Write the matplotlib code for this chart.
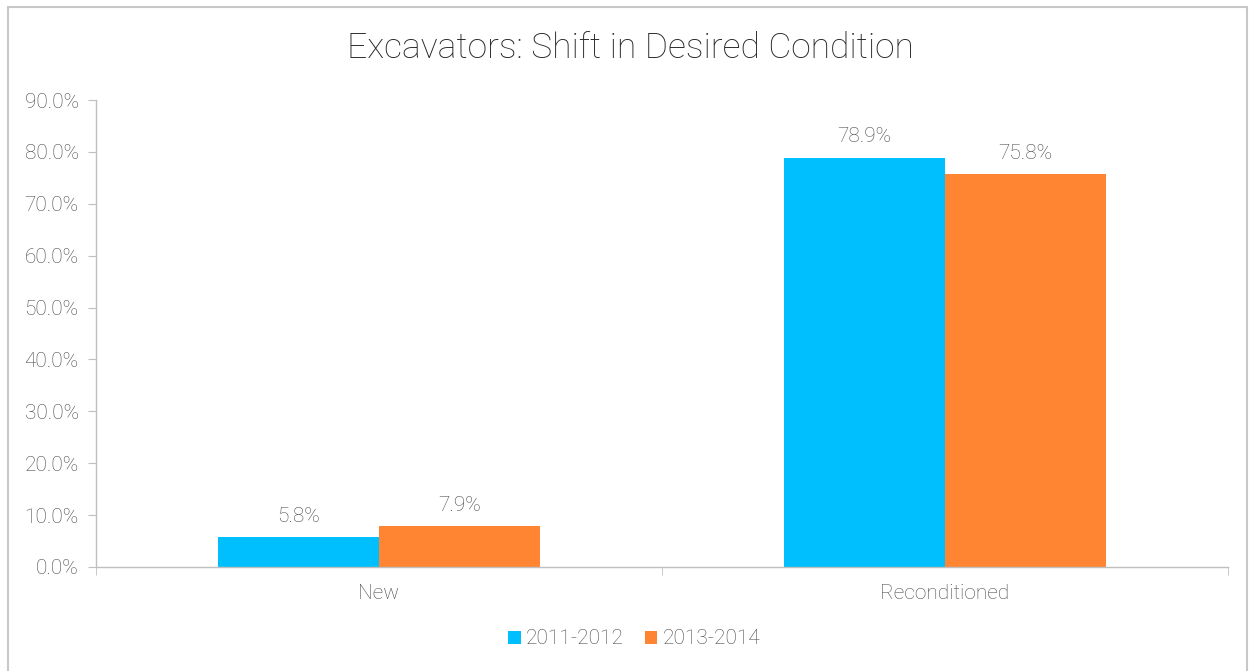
import matplotlib
matplotlib.use("Agg")
import matplotlib.pyplot as plt
from matplotlib.patches import Rectangle
import numpy as np

categories = ["New", "Reconditioned"]
series_names = ["2011-2012", "2013-2014"]
values_2011_2012 = [5.8, 78.9]
values_2013_2014 = [7.9, 75.8]
yticks = [0, 10, 20, 30, 40, 50, 60, 70, 80, 90]
title = "Excavators: Shift in Desired Condition"

colors = ["#00BFFF", "#FF8533"]
text_color = "#4A4A4A"
axis_color = "#BFBFBF"

plt.rcParams['font.family'] = ['Roboto', 'DejaVu Sans']

fig = plt.figure(figsize=(12.5, 6.71), dpi=100)
ax = fig.add_axes([96/1250, 1-567/671, (1228-96)/1250, (567-100)/671])

x = np.arange(len(categories))
w = 0.284
series = [values_2011_2012, values_2013_2014]
for i, (vals, name, c) in enumerate(zip(series, series_names, colors)):
    pos = x + (i - 0.5) * w
    bars = ax.bar(pos, vals, width=w, color=c, label=name, zorder=2)
    for b, v in zip(bars, vals):
        ax.annotate(f"{v:.1f}%", (b.get_x() + b.get_width()/2, v),
                    xytext=(0, 8), textcoords="offset points",
                    ha="center", va="bottom", fontsize=15,
                    color=text_color, fontweight="light")

ax.set_xlim(-0.5, 1.5)
ax.set_ylim(0, 90)
ax.set_yticks(yticks)
ax.set_yticklabels([f"{t:.1f}%" for t in yticks])
ax.set_xticks(x)
ax.set_xticklabels(categories)
ax.set_xticks([-0.5, 0.5, 1.5], minor=True)

for s in ["top", "right"]:
    ax.spines[s].set_visible(False)
for s in ["left", "bottom"]:
    ax.spines[s].set_color(axis_color)
    ax.spines[s].set_linewidth(1.0)

ax.tick_params(axis="y", colors=axis_color, labelcolor=text_color,
               labelsize=15, length=6, pad=6.5, direction="out")
ax.tick_params(axis="x", which="major", length=0, labelsize=15,
               labelcolor=text_color, pad=12)
ax.tick_params(axis="x", which="minor", length=6, colors=axis_color,
               direction="out")
for lab in ax.get_yticklabels() + ax.get_xticklabels():
    lab.set_fontweight("light")

fig.text(0.504, 1-48/671, title, ha="center", va="center",
         fontsize=25.5, color="#262626", fontweight="light")

leg = fig.legend(loc="center", bbox_to_anchor=(634/1250, 1-639/671),
                 ncol=2, frameon=False, fontsize=15, handlelength=0.6,
                 handleheight=0.6, handletextpad=0.25, columnspacing=1.0)
for t in leg.get_texts():
    t.set_color(text_color)
    t.set_fontweight("light")

fig.patches.append(Rectangle((8/1250, -0.01), (1247-8)/1250, 1-7/671+0.01,
                             transform=fig.transFigure, fill=False,
                             edgecolor="#C8C8C8", linewidth=1.5))

fig.savefig("out.png", dpi=100)
